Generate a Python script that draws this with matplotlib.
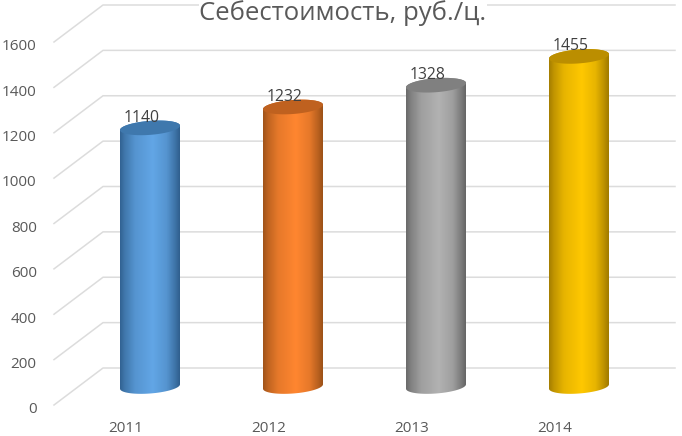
import numpy as np
import matplotlib
matplotlib.use("Agg")
import matplotlib.pyplot as plt
from matplotlib.colors import LinearSegmentedColormap, to_rgb
from matplotlib.patches import PathPatch
from matplotlib.path import Path
from matplotlib.transforms import ScaledTranslation

years = ["2011", "2012", "2013", "2014"]
values = [1140, 1232, 1328, 1455]
y_ticks = [0, 200, 400, 600, 800, 1000, 1200, 1400, 1600]
title = "Себестоимость, руб./ц."
# (edge, middle, top)
palette = [("#2f5f8e", "#62a6e6", "#3f78ad"),
           ("#9c5118", "#ff8630", "#bf611f"),
           ("#666666", "#b2b2b2", "#808080"),
           ("#a07a00", "#ffc800", "#bb8e00")]

W, H = 682, 436
plt.rcParams["font.family"] = ["Open Sans", "DejaVu Sans"]
fig = plt.figure(figsize=(W / 100, H / 100), dpi=100, facecolor="white")
ax = fig.add_axes([54 / W, (H - 405) / H, 572 / W, 363 / H])
ax.set_facecolor("none")
for s in ax.spines.values():
    s.set_visible(False)

px_x = 572 / 4            # pixels per category
px_y = 363 / 1600         # pixels per value unit
depth_x = 49 / px_x       # full floor depth, category units
depth_y = 37 / px_y       # full floor depth, value units
XMIN, XMAX = -0.5, 3.5

# walls
for v in y_ticks:
    ax.plot([XMIN, XMIN + depth_x, XMAX + depth_x], [v, v + depth_y, v + depth_y],
            color="#dcdcdc", lw=1.1, clip_on=False, zorder=1)

# cylinders
a = 30 / px_x
b = 7 / px_y
tilt = 2.2 / px_y
t_low = np.linspace(np.pi, 2 * np.pi, 60)
t_up = np.linspace(0, np.pi, 60)
t_all = np.linspace(0, 2 * np.pi, 120)
prof_t = [0, 0.08, 0.25, 0.55, 0.78, 0.92, 1]
prof_w = [0.95, 0.65, 0.25, 0.0, 0.25, 0.7, 1.0]

for i, v in enumerate(values):
    edge, mid, top = palette[i]
    cx = i + depth_x / 2
    cy0 = depth_y / 2
    cy1 = cy0 + v
    def ell(t, cy):
        return np.column_stack([cx + a * np.cos(t),
                                cy + tilt * np.cos(t) + b * np.sin(t)])
    verts = np.vstack([ell(t_low, cy0), ell(t_up, cy1), ell(t_low[:1], cy0)])
    clip = PathPatch(Path(verts), transform=ax.transData, fc="none", ec="none")
    ax.add_patch(clip)
    cmap = LinearSegmentedColormap.from_list("c", [
        (t, tuple(np.array(to_rgb(mid)) * (1 - w) + np.array(to_rgb(edge)) * w))
        for t, w in zip(prof_t, prof_w)])
    im = ax.imshow(np.linspace(0, 1, 128)[None, :], cmap=cmap, aspect="auto", zorder=3,
                   extent=[cx - a, cx + a, cy0 - 2 * b, cy1 + 2 * b], interpolation="bilinear")
    im.set_clip_path(clip)
    ax.fill(*ell(t_all, cy1).T, color=top, zorder=4, lw=0, clip_on=False)
    ax.annotate(str(v), (cx, cy1), xytext=(-6, 1.5), textcoords="offset points",
                ha="center", va="bottom", fontsize=11.3, color="#404040", zorder=5,
                annotation_clip=False)

ax.set_xlim(XMIN, XMAX)
ax.set_ylim(0, 1600)
ax.set_xticks(range(len(years)), years)
ax.set_yticks(y_ticks)
ax.tick_params(axis="both", length=0, labelsize=11, labelcolor="#595959")
ax.tick_params(axis="x", pad=11.5)
ax.tick_params(axis="y", pad=12.5)
shift = ScaledTranslation(0, -2 / 72, fig.dpi_scale_trans)
for lab in ax.get_yticklabels():
    lab.set_transform(lab.get_transform() + shift)

fig.text(343 / W, (H - 13.5) / H, title, ha="center", va="center", fontsize=18.5,
         color="#595959", zorder=10,
         bbox=dict(fc="white", ec="none", pad=0.5))

fig.savefig("out.png", dpi=100, facecolor="white")
